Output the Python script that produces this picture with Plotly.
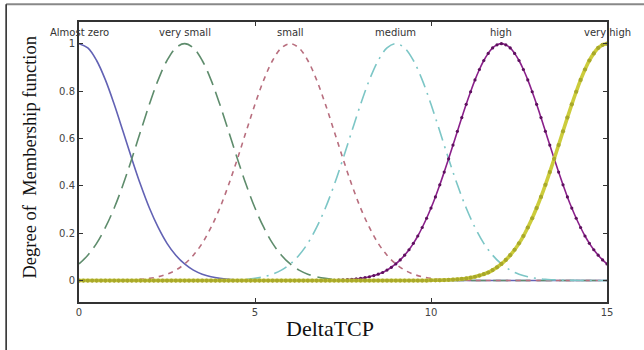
import numpy as np
import plotly.graph_objects as go

# x sample grids (DeltaTCP)
x_grid = np.linspace(0, 15, 61)    # step 0.25
x_fine = np.linspace(0, 15, 121)   # step 0.125 (marked curves)

labels = ["Almost zero", "very small", "small", "medium", "high", "very high"]
label_x = [0, 3, 6, 9, 12, 15]

almost_zero = [1, 0.982, 0.929, 0.847, 0.744, 0.630, 0.514, 0.404, 0.306, 0.224, 0.157,
               0.107, 0.070, 0.044, 0.027, 0.016, 0.009, 0.005, 0.003, 0.001, 0.001,
               0, 0, 0, 0, 0, 0, 0, 0, 0, 0, 0, 0, 0, 0, 0, 0, 0, 0, 0, 0,
               0, 0, 0, 0, 0, 0, 0, 0, 0, 0, 0, 0, 0, 0, 0, 0, 0, 0, 0, 0]
very_small = [0.070, 0.107, 0.157, 0.224, 0.306, 0.404, 0.514, 0.630, 0.744, 0.847, 0.929,
              0.982, 1, 0.982, 0.929, 0.847, 0.744, 0.630, 0.514, 0.404, 0.306, 0.224,
              0.157, 0.107, 0.070, 0.044, 0.027, 0.016, 0.009, 0.005, 0.003, 0.001, 0.001,
              0, 0, 0, 0, 0, 0, 0, 0, 0, 0, 0, 0, 0, 0, 0, 0, 0, 0, 0, 0, 0, 0, 0, 0, 0, 0, 0, 0]
small = [0, 0, 0, 0, 0.001, 0.001, 0.003, 0.005, 0.009, 0.016, 0.027, 0.044, 0.070, 0.107,
         0.157, 0.224, 0.306, 0.404, 0.514, 0.630, 0.744, 0.847, 0.929, 0.982, 1, 0.982,
         0.929, 0.847, 0.744, 0.630, 0.514, 0.404, 0.306, 0.224, 0.157, 0.107, 0.070, 0.044,
         0.027, 0.016, 0.009, 0.005, 0.003, 0.001, 0.001,
         0, 0, 0, 0, 0, 0, 0, 0, 0, 0, 0, 0, 0, 0, 0, 0]
medium = [0, 0, 0, 0, 0, 0, 0, 0, 0, 0, 0, 0, 0, 0, 0, 0,
          0.001, 0.001, 0.003, 0.005, 0.009, 0.016, 0.027, 0.044, 0.070, 0.107, 0.157, 0.224,
          0.306, 0.404, 0.514, 0.630, 0.744, 0.847, 0.929, 0.982, 1, 0.982, 0.929, 0.847,
          0.744, 0.630, 0.514, 0.404, 0.306, 0.224, 0.157, 0.107, 0.070, 0.044, 0.027, 0.016,
          0.009, 0.005, 0.003, 0.001, 0.001, 0, 0, 0, 0]

# marked curves, read on the finer grid
high = [0, 0, 0, 0, 0, 0, 0, 0, 0, 0, 0, 0, 0, 0, 0, 0, 0, 0, 0, 0,
        0, 0, 0, 0, 0, 0, 0, 0, 0, 0, 0, 0, 0, 0, 0, 0, 0, 0, 0, 0,
        0, 0, 0, 0, 0, 0, 0, 0, 0, 0, 0, 0, 0, 0, 0, 0,
        0.001, 0.001, 0.001, 0.002, 0.003, 0.004, 0.005, 0.007, 0.009, 0.012, 0.016, 0.021,
        0.027, 0.034, 0.044, 0.056, 0.070, 0.087, 0.107, 0.130, 0.157, 0.188, 0.224, 0.263,
        0.306, 0.353, 0.404, 0.458, 0.514, 0.572, 0.630, 0.688, 0.744, 0.797, 0.847, 0.891,
        0.929, 0.959, 0.982, 0.995, 1,
        0.995, 0.982, 0.959, 0.929, 0.891, 0.847, 0.797, 0.744, 0.688, 0.630, 0.572, 0.514,
        0.458, 0.404, 0.353, 0.306, 0.263, 0.224, 0.188, 0.157, 0.130, 0.107, 0.087, 0.070]
very_high = [0, 0, 0, 0, 0, 0, 0, 0, 0, 0, 0, 0, 0, 0, 0, 0, 0, 0, 0, 0,
             0, 0, 0, 0, 0, 0, 0, 0, 0, 0, 0, 0, 0, 0, 0, 0, 0, 0, 0, 0,
             0, 0, 0, 0, 0, 0, 0, 0, 0, 0, 0, 0, 0, 0, 0, 0, 0, 0, 0, 0,
             0, 0, 0, 0, 0, 0, 0, 0, 0, 0, 0, 0, 0, 0, 0, 0, 0, 0, 0, 0,
             0.001, 0.001, 0.001, 0.002, 0.003, 0.004, 0.005, 0.007, 0.009, 0.012, 0.016, 0.021,
             0.027, 0.034, 0.044, 0.056, 0.070, 0.087, 0.107, 0.130, 0.157, 0.188, 0.224, 0.263,
             0.306, 0.353, 0.404, 0.458, 0.514, 0.572, 0.630, 0.688, 0.744, 0.797, 0.847, 0.891,
             0.929, 0.959, 0.982, 0.995, 1]

y_ticks = [0, 0.2, 0.4, 0.6, 0.8, 1]
y_ticktext = ["0", "0.2", "0.4", "0.6", "0.8", "1"]
x_ticks = [0, 5, 10, 15]

fig = go.Figure()

fig.add_trace(go.Scatter(x=x_grid, y=almost_zero, mode="lines", line_shape="spline",
                         line=dict(color="#6262b4", width=1.6)))
fig.add_trace(go.Scatter(x=x_grid, y=very_small, mode="lines", line_shape="spline",
                         line=dict(color="#5e8c6c", width=1.6, dash="15px,7px")))
fig.add_trace(go.Scatter(x=x_grid, y=small, mode="lines", line_shape="spline",
                         line=dict(color="#b86e7e", width=1.6, dash="5px,5px")))
fig.add_trace(go.Scatter(x=x_grid, y=medium, mode="lines", line_shape="spline",
                         line=dict(color="#7cc6c6", width=1.6, dash="14px,6px,2px,6px")))
fig.add_trace(go.Scatter(x=x_fine, y=high, mode="lines+markers", line_shape="spline",
                         line=dict(color="#8a208a", width=1.6),
                         marker=dict(color="#5e105e", size=3.2)))
fig.add_trace(go.Scatter(x=x_fine, y=very_high, mode="lines+markers", line_shape="spline",
                         line=dict(color="#cccc3c", width=3.6),
                         marker=dict(color="#a8a82a", size=4.2)))

lab_font = dict(family="DejaVu Sans", size=10, color="#333")
for lab, lx in zip(labels, label_x):
    fig.add_annotation(x=lx, y=1.049, text=lab, showarrow=False, xanchor="center",
                       yanchor="middle", font=lab_font)

# axis titles
fig.add_annotation(xref="paper", yref="paper", x=0.475, y=-0.093, text="DeltaTCP",
                   showarrow=False, xanchor="center", yanchor="middle",
                   font=dict(family="Liberation Serif", size=22, color="#111"))
fig.add_annotation(xref="paper", yref="paper", x=-0.0928, y=0.516,
                   text="Degree of  Membership function", textangle=-90,
                   showarrow=False, xanchor="center", yanchor="middle",
                   font=dict(family="Liberation Serif", size=18.5, color="#111"))

# outer frame lines of the picture
fig.add_shape(type="line", xref="paper", yref="paper", x0=-0.138, x1=1.08, y0=1.063, y1=1.063,
              line=dict(color="#888", width=2))
fig.add_shape(type="line", xref="paper", yref="paper", x0=-0.138, x1=-0.138, y0=-0.2, y1=1.063,
              line=dict(color="#222", width=1.5))

axis_common = dict(showline=True, linecolor="#333", linewidth=2, mirror="ticks",
                   ticks="inside", ticklen=4, tickcolor="#333", showgrid=False, zeroline=False,
                   ticklabelstandoff=0,
                   tickfont=dict(family="DejaVu Sans", size=10, color="#444"))

fig.update_layout(
    width=644, height=350,
    margin=dict(l=79, r=37, t=22, b=48),
    paper_bgcolor="white", plot_bgcolor="white",
    showlegend=False,
    xaxis=dict(range=[0, 15], tickvals=x_ticks, **axis_common),
    yaxis=dict(range=[-0.0906, 1.0915], tickvals=y_ticks, ticktext=y_ticktext, **axis_common),
)

fig.write_html("out.html")
